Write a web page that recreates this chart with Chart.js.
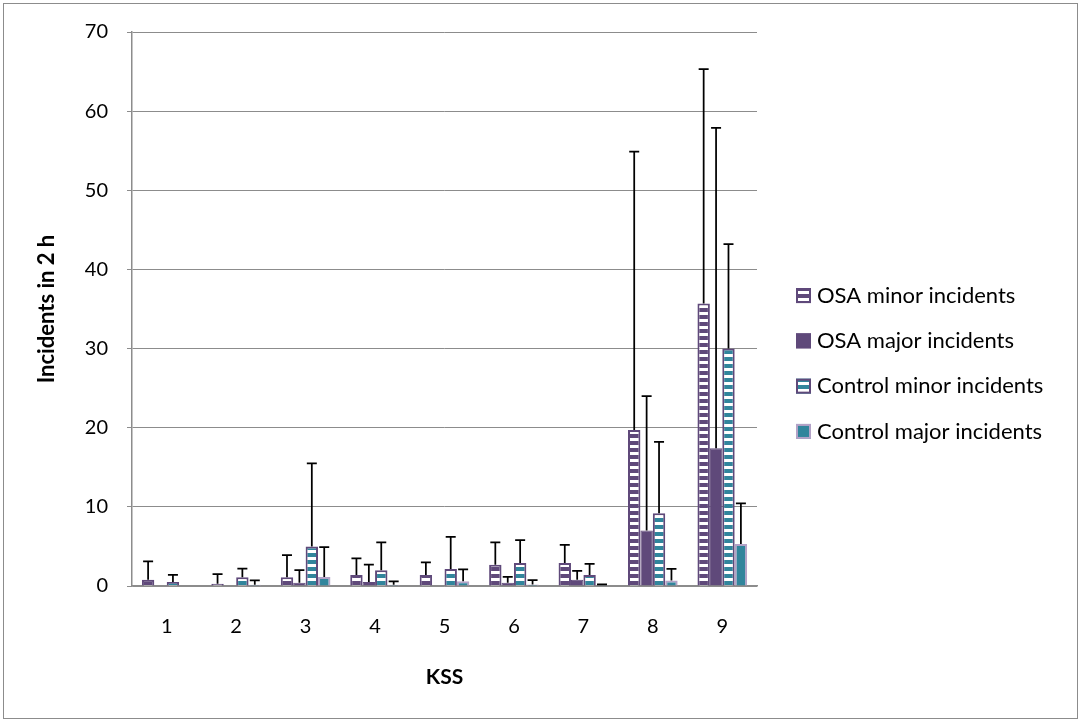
<!DOCTYPE html>
<html>
<head>
<meta charset="utf-8">
<script src="https://cdn.jsdelivr.net/npm/chart.js@4.4.1/dist/chart.umd.min.js"></script>
<style>
    body { margin: 0; background: #fff; }
    canvas { display: block; }
</style>
</head>
<body>
<canvas id="kss_chart" width="1081" height="722"></canvas>
<script>
// KSS level on the x axis
var kss = ["1", "2", "3", "4", "5", "6", "7", "8", "9"];
var seriesNames = ["OSA minor incidents", "OSA major incidents", "Control minor incidents", "Control major incidents"];

// mean incidents in 2 h
var osaMinor = [0.8, 0.3, 1.1, 1.4, 1.4, 2.7, 2.9, 19.7, 35.7];
var osaMajor = [0, 0, 0.4, 0.5, 0, 0.4, 0.8, 7.0, 17.4];
var controlMinor = [0.5, 1.1, 5.0, 2.0, 2.15, 2.9, 1.4, 9.2, 30.0];
var controlMajor = [0, 0.15, 1.15, 0.15, 0.6, 0.2, 0.1, 0.7, 5.3];

// plus-side error bars (SD)
var osaMinorErr = [2.3, 1.2, 2.8, 2.1, 1.6, 2.8, 2.3, 35.2, 29.6];
var osaMajorErr = [0, 0, 1.6, 2.2, 0, 0.75, 1.1, 17.0, 40.5];
var controlMinorErr = [0.9, 1.1, 10.5, 3.5, 4.05, 2.9, 1.4, 9.0, 13.2];
var controlMajorErr = [0, 0.55, 3.75, 0.45, 1.5, 0.55, 0.1, 1.45, 5.15];

var yTicks = [0, 10, 20, 30, 40, 50, 60, 70];

var PURPLE = "#5F497A";
var TEAL = "#31859C";
var GRID = "#8C8C8C";
var FONT = "Lato, 'Open Sans', sans-serif";

function stripes(fg, bg) {
    var c = document.createElement("canvas");
    c.width = 8;
    c.height = 7;
    var g = c.getContext("2d");
    g.fillStyle = fg;
    g.fillRect(0, 0, 8, 7);
    g.fillStyle = bg;
    g.fillRect(0, 4, 8, 3);
    return g.createPattern(c, "repeat");
}

var errors = [osaMinorErr, osaMajorErr, controlMinorErr, controlMajorErr];

var frame = {
    id: "frame",
    beforeDraw: function (chart) {
        var ctx = chart.ctx;
        ctx.save();
        ctx.fillStyle = "#fff";
        ctx.fillRect(0, 0, chart.width, chart.height);
        ctx.strokeStyle = GRID;
        ctx.lineWidth = 1;
        ctx.strokeRect(3.5, 3.5, 1074, 715);
        ctx.restore();
    }
};

var errorBars = {
    id: "errorBars",
    afterDatasetsDraw: function (chart) {
        var ctx = chart.ctx;
        var y = chart.scales.y;
        ctx.save();
        ctx.strokeStyle = "#000";
        ctx.lineWidth = 1.75;
        chart.data.datasets.forEach(function (ds, i) {
            chart.getDatasetMeta(i).data.forEach(function (bar, j) {
                var e = errors[i][j];
                if (!e) return;
                var top = y.getPixelForValue(ds.data[j] + e);
                ctx.beginPath();
                ctx.moveTo(bar.x, bar.y);
                ctx.lineTo(bar.x, top);
                ctx.moveTo(bar.x - 5, top);
                ctx.lineTo(bar.x + 5, top);
                ctx.stroke();
            });
        });
        ctx.restore();
    }
};

var sideLegend = {
    id: "sideLegend",
    afterDraw: function (chart) {
        var ctx = chart.ctx;
        var area = chart.chartArea;
        var x = area.right + 39;
        var rowGap = 45.3;
        var n = chart.data.datasets.length;
        var y0 = 363.5 - rowGap * (n - 1) / 2;
        ctx.save();
        ctx.font = "22px " + FONT;
        ctx.textBaseline = "middle";
        ctx.fillStyle = "#000";
        chart.data.datasets.forEach(function (ds, i) {
            var cy = y0 + i * rowGap;
            ctx.fillStyle = ds.backgroundColor;
            ctx.fillRect(x, cy - 7.5, 15, 15);
            ctx.strokeStyle = ds.borderColor;
            ctx.lineWidth = 2;
            ctx.strokeRect(x + 1, cy - 6.5, 13, 13);
            ctx.fillStyle = "#000";
            ctx.fillText(ds.label, x + 21, cy);
        });
        ctx.restore();
    }
};

var ctx = document.getElementById("kss_chart");

var chart = new Chart(ctx, {
    type: "bar",
    data: {
        labels: kss,
        datasets: [
            {
                label: seriesNames[0],
                data: osaMinor,
                backgroundColor: stripes(PURPLE, "#fff"),
                borderColor: PURPLE,
                borderWidth: 2
            },
            {
                label: seriesNames[1],
                data: osaMajor,
                backgroundColor: PURPLE,
                borderColor: PURPLE,
                borderWidth: 1
            },
            {
                label: seriesNames[2],
                data: controlMinor,
                backgroundColor: stripes(TEAL, "#fff"),
                borderColor: PURPLE,
                borderWidth: 2
            },
            {
                label: seriesNames[3],
                data: controlMajor,
                backgroundColor: TEAL,
                borderColor: "#B3A2C7",
                borderWidth: 2
            }
        ]
    },
    options: {
        responsive: false,
        animation: false,
        layout: { padding: { top: 32, right: 324, bottom: 0, left: 0 } },
        datasets: { bar: { categoryPercentage: 0.715, barPercentage: 1.0 } },
        plugins: {
            legend: { display: false },
            tooltip: { enabled: false }
        },
        scales: {
            x: {
                grid: { display: false, drawTicks: false },
                border: { display: true, color: GRID, width: 1.5 },
                ticks: { color: "#000", font: { family: FONT, size: 20 }, padding: 29 },
                title: {
                    display: true,
                    text: "KSS",
                    color: "#000",
                    font: { family: FONT, size: 21, weight: "bold" },
                    padding: { bottom: 32 }
                },
                afterFit: function (scale) { scale.height = 136; }
            },
            y: {
                min: 0,
                max: 70,
                afterBuildTicks: function (scale) {
                    scale.ticks = yTicks.map(function (v) { return { value: v }; });
                },
                grid: { color: GRID, lineWidth: 1, tickLength: 5 },
                border: { display: true, color: GRID, width: 1.5 },
                ticks: { color: "#000", font: { family: FONT, size: 20 }, padding: 19 },
                title: {
                    display: true,
                    text: "Incidents in 2 h",
                    color: "#000",
                    font: { family: FONT, size: 22, weight: "bold" },
                    padding: { top: 34 }
                },
                afterFit: function (scale) { scale.width = 132; }
            }
        }
    },
    plugins: [frame, errorBars, sideLegend]
});
</script>
</body>
</html>
